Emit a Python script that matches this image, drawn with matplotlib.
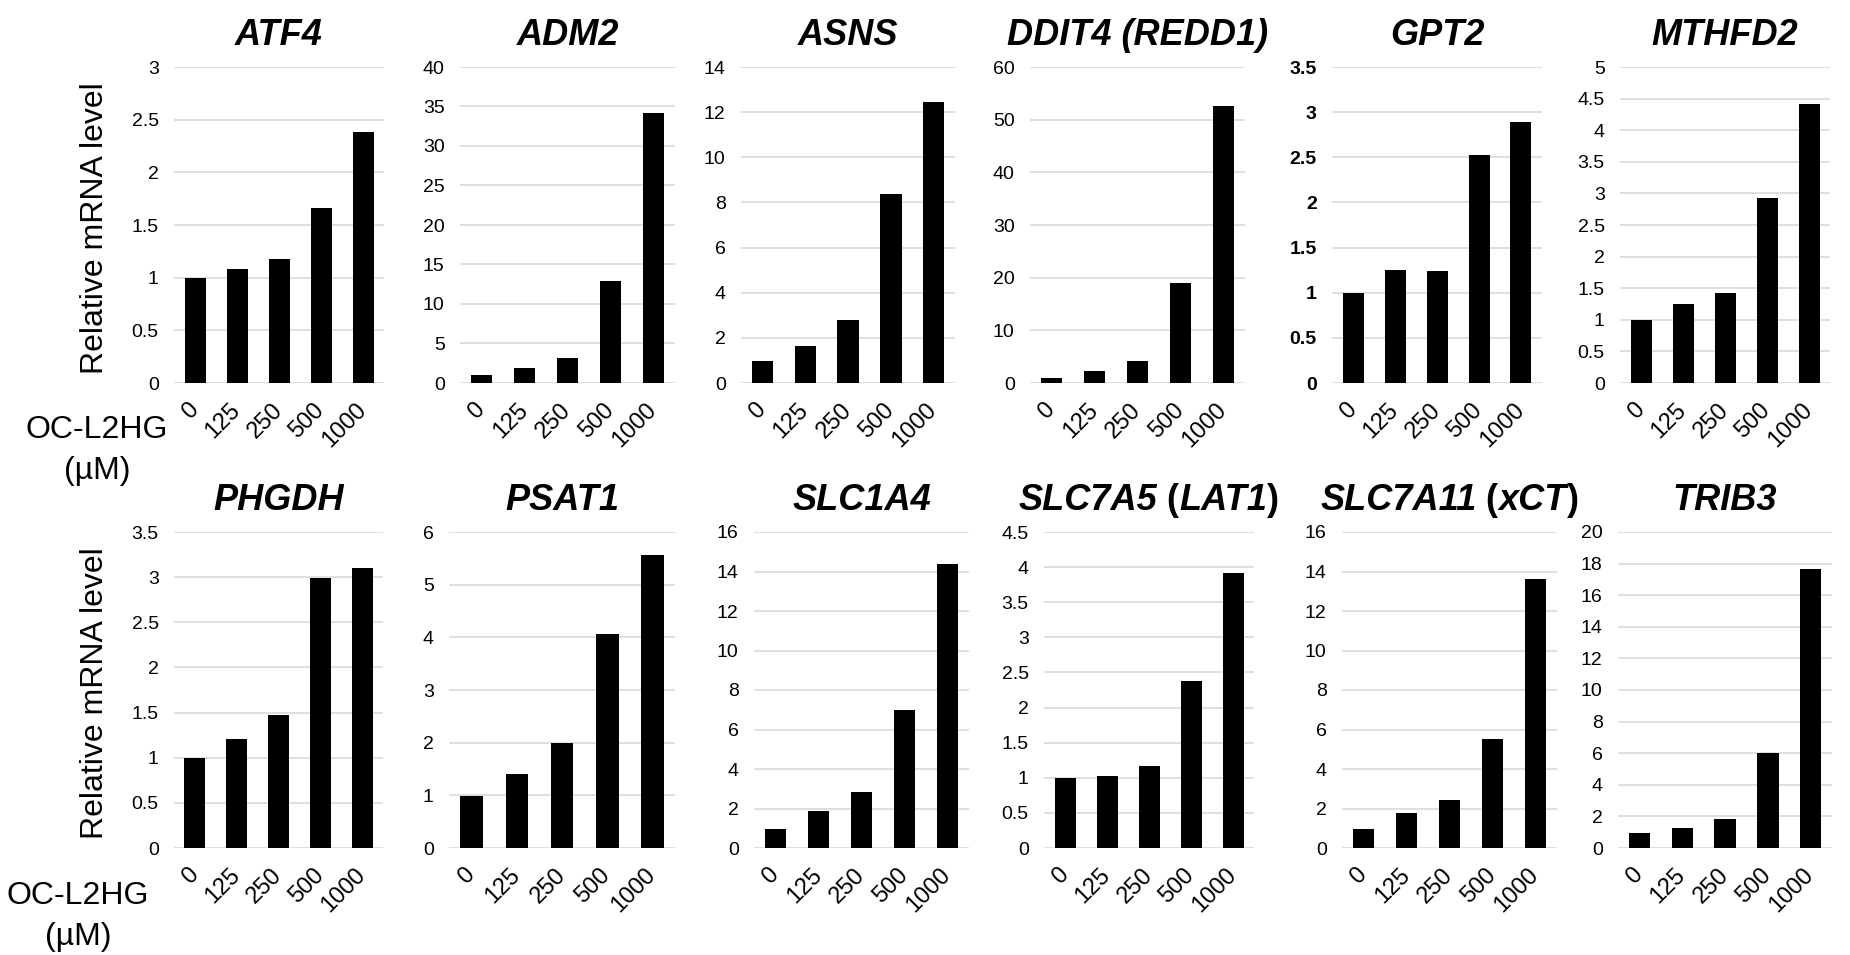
import numpy as np
import matplotlib
matplotlib.use('Agg')
import matplotlib.pyplot as plt

# --- DATA ---
doses = ['0', '125', '250', '500', '1000']

atf4 = [1.00, 1.08, 1.18, 1.66, 2.38]
adm2 = [1.06, 1.86, 3.17, 12.97, 34.2]
asns = [0.99, 1.62, 2.80, 8.36, 12.45]
ddit4 = [0.95, 2.2, 4.1, 18.9, 52.5]
gpt2 = [1.00, 1.25, 1.24, 2.53, 2.89]
mthfd2 = [0.99, 1.25, 1.42, 2.93, 4.41]
phgdh = [1.00, 1.21, 1.47, 2.99, 3.10]
psat1 = [0.99, 1.41, 2.00, 4.06, 5.56]
slc1a4 = [0.96, 1.89, 2.84, 6.99, 14.36]
slc7a5 = [1.00, 1.03, 1.17, 2.38, 3.92]
slc7a11 = [0.96, 1.77, 2.43, 5.51, 13.63]
trib3 = [0.95, 1.27, 1.82, 6.02, 17.66]

# gene titles: (text, fontstyle) pieces
titles = [
    [('ATF4', 'italic')],
    [('ADM2', 'italic')],
    [('ASNS', 'italic')],
    [('DDIT4 (REDD1)', 'italic')],
    [('GPT2', 'italic')],
    [('MTHFD2', 'italic')],
    [('PHGDH', 'italic')],
    [('PSAT1', 'italic')],
    [('SLC1A4', 'italic')],
    [('SLC7A5', 'italic'), (' (', 'normal'), ('LAT1', 'italic'), (')', 'normal')],
    [('SLC7A11', 'italic'), (' (', 'normal'), ('xCT', 'italic'), (')', 'normal')],
    [('TRIB3', 'italic')],
]
series = [atf4, adm2, asns, ddit4, gpt2, mthfd2,
          phgdh, psat1, slc1a4, slc7a5, slc7a11, trib3]
y_max = [3, 40, 14, 60, 3.5, 5, 3.5, 6, 16, 4.5, 16, 20]
y_step = [0.5, 5, 2, 10, 0.5, 0.5, 0.5, 1, 2, 0.5, 2, 2]
bold_ticks = [False, False, False, False, True, False,
              False, False, False, False, False, False]

# --- LAYOUT (pixels) ---
W, H = 1850, 955
row_cols = [
    [(174, 384), (460, 675), (741, 955), (1030, 1245), (1332, 1542), (1620, 1830)],
    [(174, 383), (449, 675), (754, 969), (1044, 1254), (1342, 1557), (1618, 1832)],
]
row_tb = [(67, 383), (532, 848)]

plt.rcParams['font.family'] = ['Liberation Sans', 'DejaVu Sans']
fig = plt.figure(figsize=(W / 100, H / 100), dpi=100)

axes = []
for r in range(2):
    top, bot = row_tb[r]
    for c in range(6):
        left, right = row_cols[r][c]
        ax = fig.add_axes([left / W, 1 - bot / H, (right - left) / W, (bot - top) / H])
        axes.append(ax)

x = np.arange(len(doses))
for i, ax in enumerate(axes):
    ax.bar(x, series[i], width=0.5, color='black', zorder=3)
    ax.set_xlim(-0.5, len(doses) - 0.5)
    ax.set_ylim(0, y_max[i])
    ticks = np.arange(0, y_max[i] + y_step[i] / 2, y_step[i])
    ax.set_yticks(ticks)
    ax.set_yticklabels(['{:g}'.format(t) for t in ticks], fontsize=14,
                       fontweight='bold' if bold_ticks[i] else 'normal')
    ax.set_xticks(x)
    ax.set_xticklabels(doses, fontsize=17, rotation=45, ha='right',
                       va='center', rotation_mode='anchor')
    ax.tick_params(axis='both', length=0)
    ax.tick_params(axis='y', pad=11)
    ax.tick_params(axis='x', pad=17)
    ax.yaxis.grid(True, color='#d9d9d9', linewidth=1.2, zorder=0)
    ax.set_axisbelow(True)
    for sp in ax.spines.values():
        sp.set_visible(False)

# titles built from pieces so that parts of a name can be upright
renderer = fig.canvas.get_renderer()
for i, ax in enumerate(axes):
    pieces = []
    for txt, style in titles[i]:
        t = fig.text(0, 0, txt, fontsize=26, fontweight='bold', fontstyle=style,
                     ha='left', va='baseline')
        pieces.append(t)
    widths = [t.get_window_extent(renderer).width for t in pieces]
    bb = ax.get_window_extent(renderer)
    x0 = (bb.x0 + bb.x1) / 2 - sum(widths) / 2
    y0 = bb.y1 + 22
    for t, w in zip(pieces, widths):
        t.set_position((x0 / W, y0 / H))
        x0 += w

# shared row labels
ylab_y = [228, 693]
unit_x = [97, 78]
unit_y = [430, 896]
for r in range(2):
    fig.text(95 / W, 1 - ylab_y[r] / H, 'Relative mRNA level', rotation=90,
             fontsize=23, ha='center', va='center')
    fig.text(unit_x[r] / W, 1 - unit_y[r] / H, 'OC-L2HG', fontsize=23,
             ha='center', va='center')
    fig.text(unit_x[r] / W, 1 - (unit_y[r] + 41) / H, '(µM)', fontsize=23,
             ha='center', va='center')

fig.savefig('out.png', dpi=100, facecolor='white')
